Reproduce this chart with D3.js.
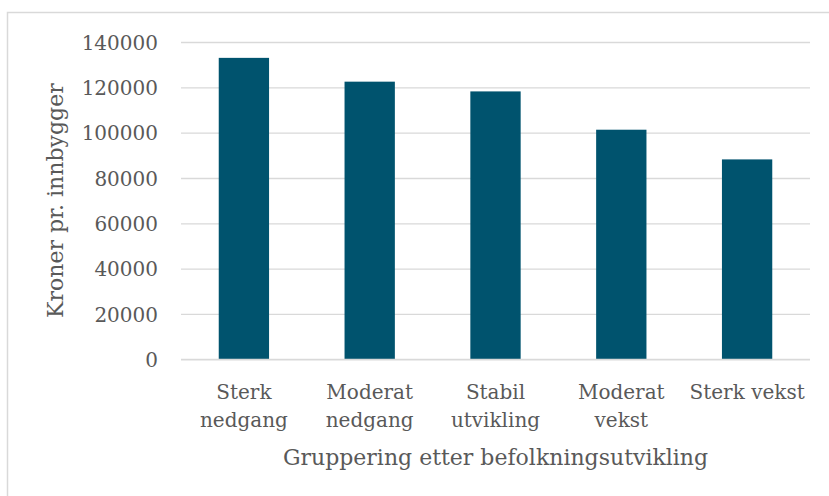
<!DOCTYPE html>
<html>
<head>
<meta charset="utf-8">
<script src="https://cdn.jsdelivr.net/npm/d3@7"></script>
<style>
html,body{margin:0;padding:0;background:#fff;}
svg{display:block;}
text{font-family:"DejaVu Serif",serif;fill:#595959;}
</style>
</head>
<body>
<div id="chart"></div>
<script>
const categories = ["Sterk nedgang", "Moderat nedgang", "Stabil utvikling", "Moderat vekst", "Sterk vekst"];
const values = [133000, 122500, 118200, 101300, 88200];
const yTicks = [0, 20000, 40000, 60000, 80000, 100000, 120000, 140000];
const yTitle = "Kroner pr. innbygger";
const xTitle = "Gruppering etter befolkningsutvikling";

const W = 829, H = 496;
const plot = {left: 181, right: 810, top: 42, bottom: 359.3};

const svg = d3.select("#chart").append("svg").attr("width", W).attr("height", H);

svg.append("rect").attr("x", 7.5).attr("y", 12.5).attr("width", 840).attr("height", 500)
  .attr("fill", "#fff").attr("stroke", "#d9d9d9").attr("stroke-width", 1.5);

const x = d3.scaleBand().domain(categories).range([plot.left, plot.right])
  .paddingInner(0.6).paddingOuter(0.3);
const y = d3.scaleLinear().domain([0, 140000]).range([plot.bottom, plot.top]);

// gridlines + y labels via axis
const yAxis = d3.axisLeft(y).tickValues(yTicks).tickSize(-(plot.right - plot.left)).tickPadding(23).tickFormat(d3.format("d"));
const gy = svg.append("g").attr("transform", `translate(${plot.left},0)`).call(yAxis);
gy.select(".domain").remove();
gy.selectAll(".tick line").attr("stroke", "#d9d9d9").attr("stroke-width", 1.3);
gy.selectAll(".tick text").attr("font-size", 20).attr("fill", "#595959")
  .attr("font-family", "DejaVu Serif").attr("dy", "0.36em");

// bars
svg.append("g").selectAll("rect").data(values).enter().append("rect")
  .attr("x", (d, i) => x(categories[i]))
  .attr("width", x.bandwidth())
  .attr("y", d => y(d))
  .attr("height", d => y(0) - y(d))
  .attr("fill", "#00536e");

// x axis
const xAxis = d3.axisBottom(x).tickSize(0).tickPadding(0);
const gx = svg.append("g").attr("transform", `translate(0,${plot.bottom})`).call(xAxis);
gx.select(".domain").attr("stroke", "#d9d9d9").attr("stroke-width", 1.3)
  .attr("d", `M${plot.left},0H${plot.right}`);
gx.selectAll(".tick text").each(function(d) {
  const t = d3.select(this);
  t.text(null).attr("font-size", 20).attr("font-family", "DejaVu Serif").attr("fill", "#595959")
    .attr("y", 0).attr("dy", null);
  const lines = d === "Sterk vekst" ? [d] : d.split(" ");
  lines.forEach((ln, i) => {
    t.append("tspan").attr("x", 0).attr("y", 40 + i * 28).text(ln);
  });
});

// titles
svg.append("text")
  .attr("transform", `translate(63,${(plot.top + plot.bottom) / 2}) rotate(-90)`)
  .attr("text-anchor", "middle").attr("font-size", 22).text(yTitle);
svg.append("text")
  .attr("x", (plot.left + plot.right) / 2).attr("y", 465)
  .attr("text-anchor", "middle").attr("font-size", 22).text(xTitle);
</script>
</body>
</html>
